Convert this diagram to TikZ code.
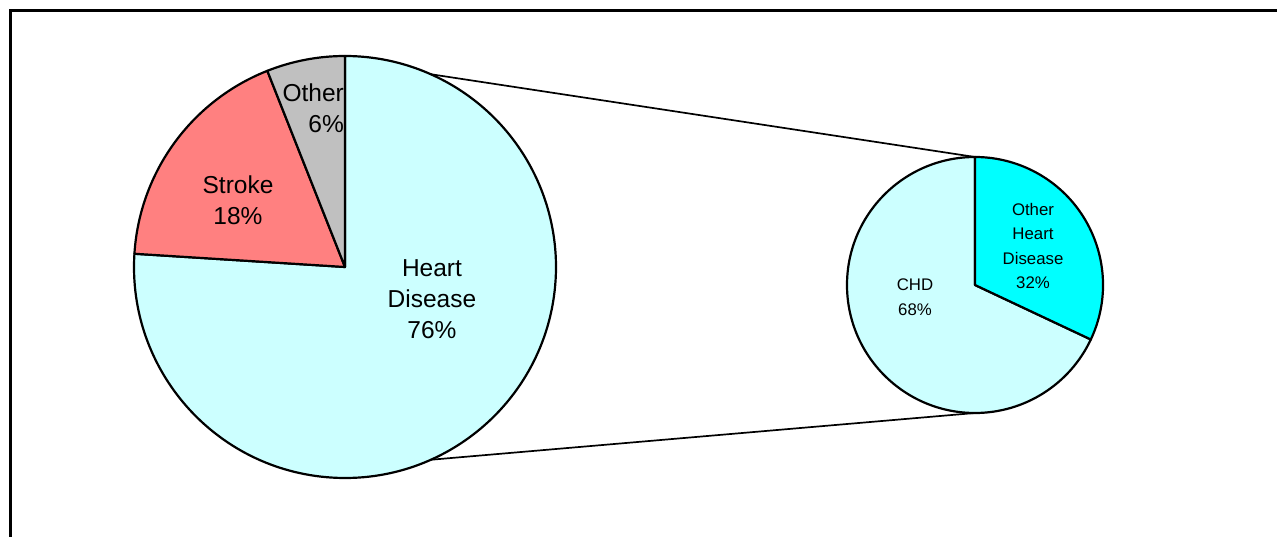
\documentclass[tikz,border=0pt]{standalone}
\usepackage{fontspec}
\setmainfont{Liberation Sans}
\usetikzlibrary{calc}
\definecolor{heartc}{HTML}{CCFFFF}
\definecolor{strokec}{HTML}{FF8080}
\definecolor{otherc}{HTML}{C0C0C0}
\definecolor{ohdc}{HTML}{00FFFF}
\begin{document}
\begin{tikzpicture}[x=1pt,y=1pt,
  slice/.style={draw=black,line width=2.2pt,line join=round},
  bigtxt/.style={font=\fontsize{24.5}{31}\selectfont,align=center,inner sep=0pt},
  smalltxt/.style={font=\fontsize{16.8}{24.5}\selectfont,align=center,inner sep=0pt},
  conn/.style={draw=black,line width=1.7pt}]
\useasboundingbox (0,0) rectangle (1277,536);
\fill[white] (0,0) rectangle (1277,536);
% frame
\draw[line width=3pt] (10,-5) -- (10,525) -- (1285,525);
% big pie
\coordinate (bc) at (345,269);
\path[slice,fill=heartc] (bc) -- ++(176.4:211) arc[start angle=176.4,end angle=450,radius=211] -- cycle;
\path[slice,fill=strokec] (bc) -- ++(111.6:211) arc[start angle=111.6,end angle=176.4,radius=211] -- cycle;
\path[slice,fill=otherc] (bc) -- ++(90:211) arc[start angle=90,end angle=111.6,radius=211] -- cycle;
% small pie
\coordinate (sc) at (975,251);
\path[slice,fill=heartc] (sc) -- ++(90:128) arc[start angle=90,end angle=334.8,radius=128] -- cycle;
\path[slice,fill=ohdc] (sc) -- ++(-25.2:128) arc[start angle=-25.2,end angle=90,radius=128] -- cycle;
% connectors
\coordinate (bt) at ($(bc)+(66:211)$);
\coordinate (bb) at ($(bc)+(-66:211)$);
\coordinate (stp) at ($(sc)+(90:128)$);
\coordinate (sbt) at ($(sc)+(-90:128)$);
\draw[conn] (bt) -- (stp);
\draw[conn] (bb) -- (sbt);
% labels
\node[bigtxt] (hd) at (432,237) {Heart\\Disease\\76\%};
\node[bigtxt] (stk) at (238,336) {Stroke\\18\%};
\node[bigtxt,align=right,anchor=east] (ot) at (344,428) {Other\\6\%};
\node[smalltxt] (chd) at (915,239) {CHD\\68\%};
\node[smalltxt] (ohd) at (1033,290) {Other\\Heart\\Disease\\32\%};
\end{tikzpicture}
\end{document}
